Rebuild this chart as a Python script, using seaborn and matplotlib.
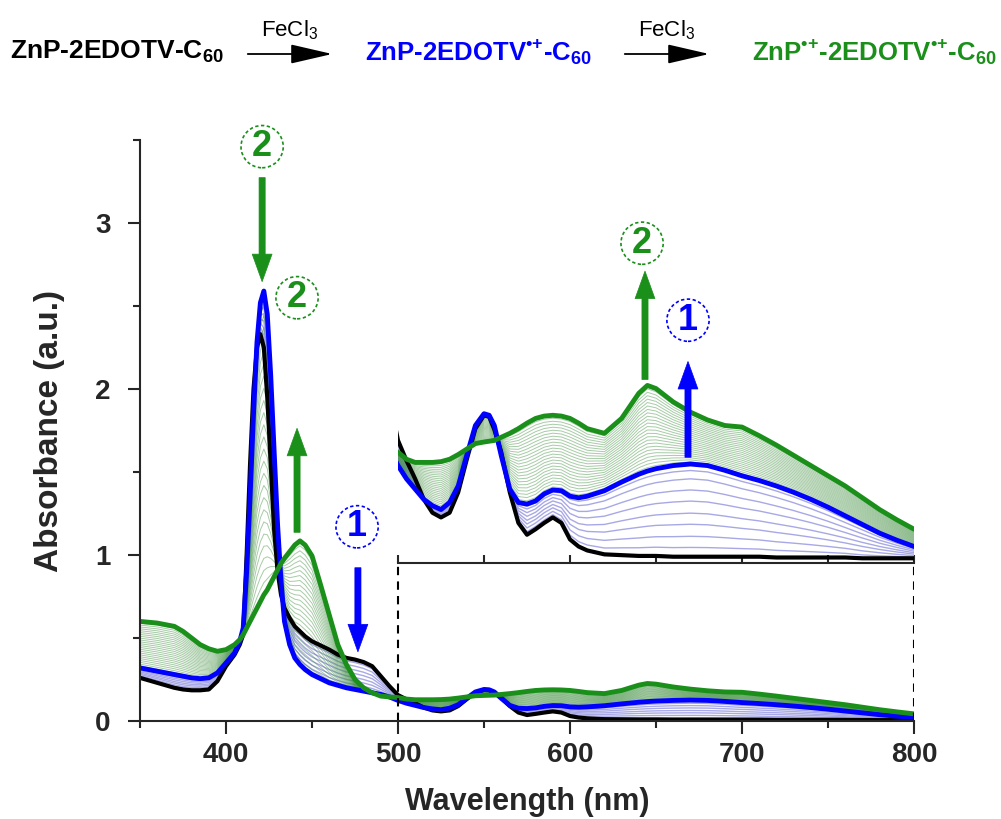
import numpy as np
import pandas as pd
import matplotlib
matplotlib.use("Agg")
import matplotlib.pyplot as plt
from matplotlib.ticker import MultipleLocator
import seaborn as sns

# -------------------------------
# DATA
# -------------------------------
wavelength = [350, 360, 370, 375, 380, 385, 390, 395, 400, 405, 408, 410, 412, 414, 416,
              418, 420, 422, 424, 426, 428, 430, 432, 434, 437, 440, 443, 446, 450, 455,
              460, 465, 470, 475, 480, 485, 490, 495, 500, 505, 510, 515, 520, 525, 530,
              535, 540, 545, 550, 553, 556, 560, 565, 570, 575, 580, 585, 590, 595, 600,
              605, 610, 620, 630, 640, 645, 650, 660, 670, 680, 690, 700, 710, 720, 730,
              740, 750, 760, 770, 780, 790, 800]

# ZnP-2EDOTV-C60 (black)
abs_neutral = [0.26, 0.23, 0.20, 0.19, 0.185, 0.185, 0.19, 0.24, 0.33, 0.40, 0.46, 0.52, 1.00, 1.55, 2.00,
               2.25, 2.33, 2.25, 1.95, 1.55, 1.15, 0.90, 0.76, 0.68, 0.62, 0.57, 0.54, 0.51, 0.48, 0.455,
               0.43, 0.40, 0.38, 0.37, 0.355, 0.33, 0.27, 0.21, 0.156, 0.13, 0.107, 0.081, 0.064, 0.058, 0.064,
               0.090, 0.132, 0.171, 0.188, 0.186, 0.170, 0.141, 0.090, 0.051, 0.036, 0.043, 0.051, 0.058, 0.051, 0.030,
               0.021, 0.016, 0.011, 0.010, 0.009, 0.009, 0.009, 0.008, 0.008, 0.008, 0.008, 0.008, 0.008, 0.007, 0.007,
               0.007, 0.007, 0.007, 0.006, 0.006, 0.006, 0.006]

# ZnP-2EDOTV*+-C60 (blue)
abs_radical1 = [0.32, 0.30, 0.28, 0.27, 0.26, 0.255, 0.26, 0.29, 0.35, 0.41, 0.48, 0.56, 0.90, 1.35, 1.85,
                2.28, 2.52, 2.59, 2.45, 2.08, 1.62, 1.18, 0.84, 0.60, 0.46, 0.38, 0.34, 0.31, 0.28, 0.255,
                0.23, 0.215, 0.20, 0.19, 0.18, 0.17, 0.16, 0.145, 0.124, 0.107, 0.094, 0.081, 0.073, 0.068, 0.077,
                0.098, 0.137, 0.175, 0.190, 0.188, 0.175, 0.137, 0.094, 0.077, 0.075, 0.079, 0.088, 0.093, 0.092, 0.085,
                0.083, 0.085, 0.092, 0.103, 0.113, 0.117, 0.120, 0.124, 0.126, 0.124, 0.118, 0.111, 0.105, 0.098, 0.090,
                0.081, 0.071, 0.060, 0.049, 0.038, 0.029, 0.021]

# ZnP*+-2EDOTV*+-C60 (green)
abs_radical2 = [0.60, 0.59, 0.57, 0.54, 0.50, 0.46, 0.435, 0.42, 0.43, 0.46, 0.49, 0.52, 0.56, 0.60, 0.64,
                0.68, 0.72, 0.76, 0.79, 0.83, 0.87, 0.91, 0.95, 0.98, 1.02, 1.06, 1.085, 1.06, 0.995, 0.82,
                0.64, 0.46, 0.34, 0.25, 0.20, 0.17, 0.15, 0.145, 0.141, 0.132, 0.128, 0.128, 0.128, 0.129, 0.132,
                0.138, 0.145, 0.152, 0.154, 0.155, 0.156, 0.160, 0.165, 0.171, 0.178, 0.184, 0.187, 0.188, 0.187, 0.184,
                0.178, 0.171, 0.165, 0.184, 0.216, 0.226, 0.222, 0.205, 0.192, 0.182, 0.175, 0.173, 0.162, 0.150, 0.137,
                0.124, 0.111, 0.098, 0.083, 0.068, 0.055, 0.043]

# titration steps: fraction of conversion for each intermediate spectrum
step1_fraction = [0.10, 0.22, 0.35, 0.47, 0.60, 0.72, 0.84, 0.93]
step2_fraction = [0.04, 0.08, 0.12, 0.16, 0.20, 0.24, 0.28, 0.32, 0.36, 0.40, 0.44, 0.48,
                  0.52, 0.56, 0.60, 0.64, 0.68, 0.72, 0.76, 0.80, 0.84, 0.88, 0.92, 0.96]

GREEN = "#1a8f1a"
BLUE = "#0000ff"
LAVENDER = "#a8a8e6"
RAD = "$^{\\mathbf{\u2022{+}}}$"

# -------------------------------
# build long tables for the intermediate spectra
# -------------------------------
wl = np.array(wavelength)
a0, a1, a2 = np.array(abs_neutral), np.array(abs_radical1), np.array(abs_radical2)

rows1 = [pd.DataFrame({"wavelength": wl, "absorbance": a0 + f * (a1 - a0), "step": i})
         for i, f in enumerate(step1_fraction)]
rows2 = [pd.DataFrame({"wavelength": wl, "absorbance": a1 + f * (a2 - a1), "step": i})
         for i, f in enumerate(step2_fraction)]
steps1 = pd.concat(rows1, ignore_index=True)
steps2 = pd.concat(rows2, ignore_index=True)

sns.set_style("ticks")
plt.rcParams["font.family"] = ["Liberation Sans", "DejaVu Sans"]
plt.rcParams["mathtext.fontset"] = "custom"
plt.rcParams["mathtext.rm"] = "Liberation Sans"
plt.rcParams["mathtext.bf"] = "Liberation Sans:bold"

fig = plt.figure(figsize=(10.01, 8.19), dpi=100)
ax = fig.add_axes([140 / 1001, 98 / 819, 774 / 1001, 581 / 819])
axin = fig.add_axes([398 / 1001, 256 / 819, 516 / 1001, 275 / 819])
axin.set_facecolor("none")


def draw_spectra(a):
    sns.lineplot(data=steps1, x="wavelength", y="absorbance", units="step", estimator=None,
                 color=LAVENDER, lw=1.0, ax=a, legend=False, sort=False)
    sns.lineplot(data=steps2, x="wavelength", y="absorbance", units="step", estimator=None,
                 color="#3c8c3c", lw=0.7, alpha=0.45, ax=a, legend=False, sort=False)
    sns.lineplot(x=wl, y=a0, color="black", lw=3, ax=a, sort=False)
    sns.lineplot(x=wl, y=a1, color=BLUE, lw=3.5, ax=a, sort=False)
    sns.lineplot(x=wl, y=a2, color=GREEN, lw=3.5, ax=a, sort=False)


draw_spectra(ax)
draw_spectra(axin)

# main axes
ax.set_xlim(350, 800)
ax.set_ylim(0, 3.5)
ax.xaxis.set_major_locator(MultipleLocator(100))
ax.xaxis.set_minor_locator(MultipleLocator(50))
ax.yaxis.set_major_locator(MultipleLocator(1))
ax.yaxis.set_minor_locator(MultipleLocator(0.5))
ax.tick_params(which="major", direction="out", length=9, width=1.5, labelsize=20, pad=6)
ax.tick_params(axis="y", which="major", pad=12)
ax.tick_params(which="minor", direction="out", length=5, width=1.5)
for lbl in ax.get_xticklabels() + ax.get_yticklabels():
    lbl.set_fontweight("bold")
for s in ax.spines.values():
    s.set_linewidth(1.5)
sns.despine(ax=ax)
ax.set_xlabel("Wavelength (nm)", fontsize=22, fontweight="bold", labelpad=14)
ax.set_ylabel("Absorbance (a.u.)", fontsize=24, fontweight="bold", labelpad=22)

# inset axes
axin.set_xlim(500, 800)
axin.set_ylim(0, 0.35)
axin.xaxis.set_major_locator(MultipleLocator(50))
axin.set_xticklabels([])
axin.set_yticks([])
axin.set_xlabel("")
axin.set_ylabel("")
axin.tick_params(axis="x", direction="in", length=6, width=1.5)
sns.despine(ax=axin, left=True)
axin.spines["bottom"].set_linewidth(1.5)

# dashed zoom box in the main axes
inv = ax.transData.inverted()
y_box = inv.transform(fig.transFigure.transform((0, axin.get_position().y0)))[1]
for xb in (500, 800):
    ax.plot([xb, xb], [0, y_box], color="black", ls=(0, (4, 3)), lw=1.5)


# arrows and step labels
def arrow(a, x, y0, y1, color):
    a.annotate("", xy=(x, y1), xytext=(x, y0), annotation_clip=False,
               arrowprops=dict(arrowstyle="simple,head_length=0.9,head_width=0.65,tail_width=0.2",
                               mutation_scale=22, fc=color, ec=color, lw=0.5))


def step_label(a, x, y, txt, color):
    a.text(x, y, txt, ha="center", va="center", fontsize=26, fontweight="bold", color=color,
           clip_on=False,
           bbox=dict(boxstyle="circle,pad=0.1", fc="white", ec=color, lw=1.2, ls=(0, (2, 1.5))))


arrow(ax, 421, 3.29, 2.63, GREEN)
step_label(ax, 421, 3.46, "2", GREEN)
arrow(ax, 441.3, 1.12, 1.78, GREEN)
step_label(ax, 441.3, 2.55, "2", GREEN)
arrow(ax, 476.7, 0.94, 0.40, BLUE)
step_label(ax, 476.2, 1.17, "1", BLUE)

arrow(axin, 643.6, 0.23, 0.375, GREEN)
step_label(axin, 641.9, 0.407, "2", GREEN)
arrow(axin, 668.6, 0.131, 0.26, BLUE)
step_label(axin, 668.6, 0.309, "1", BLUE)

# reaction scheme on top
ty = 1 - 52 / 819
fig.text(10 / 1001, ty, "ZnP-2EDOTV-C$_{\\mathbf{60}}$", fontsize=19, fontweight="bold",
         color="black", ha="left", va="center")
fig.text(365 / 1001, ty, "ZnP-2EDOTV" + RAD + "-C$_{\\mathbf{60}}$", fontsize=18.5,
         fontweight="bold", color=BLUE, ha="left", va="center")
fig.text(997 / 1001, ty, "ZnP" + RAD + "-2EDOTV" + RAD + "-C$_{\\mathbf{60}}$",
         fontsize=18.5, fontweight="bold", color=GREEN, ha="right", va="center")
for x0, x1 in ((245, 335), (622, 712)):
    fig.patches.append(matplotlib.patches.FancyArrowPatch(
        (x0 / 1001, 1 - 54 / 819), (x1 / 1001, 1 - 54 / 819), transform=fig.transFigure,
        arrowstyle="-|>,head_length=1.3,head_width=0.3", mutation_scale=20, color="black", lw=1.3))
    fig.text((x0 + x1) / 2 / 1001, 1 - 30 / 819, "FeCl$_3$", fontsize=16, ha="center",
             va="center", color="black")

fig.savefig("out.png", dpi=100)
